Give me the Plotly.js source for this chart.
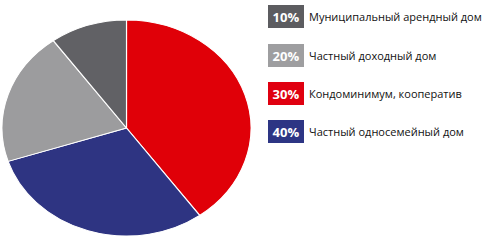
<!DOCTYPE html>
<html>
<head>
<meta charset="utf-8">
<script src="https://cdn.plot.ly/plotly-3.0.1.min.js"></script>
<style>
html,body{margin:0;padding:0;background:#fff;}
#chart{width:495px;height:246px;}
</style>
</head>
<body>
<div id="chart"></div>
<script>
// Pie slices as drawn (clockwise from 12 o'clock)
const sliceNames = ["Кондоминимум, кооператив", "Частный односемейный дом", "Частный доходный дом", "Муниципальный арендный дом"];
const sliceValues = [40, 30, 20, 10];
const sliceColors = ["#e00008", "#2e3482", "#9c9c9e", "#616165"];

// Custom legend (as printed)
const legendPct = ["10%", "20%", "30%", "40%"];
const legendLabels = ["Муниципальный арендный дом", "Частный доходный дом", "Кондоминимум, кооператив", "Частный односемейный дом"];
const legendColors = ["#5c5c60", "#9e9ea0", "#e00010", "#2d3584"];

const W = 495, H = 246;
const cx = 126.5, cy = 128, ry = 108, rx = 124.5;

const data = [{
  type: "pie",
  labels: sliceNames,
  values: sliceValues,
  marker: {colors: sliceColors, line: {color: "#ffffff", width: 1}},
  sort: false,
  direction: "clockwise",
  rotation: 0,
  textinfo: "none",
  hoverinfo: "label+percent",
  showlegend: false,
  domain: {x: [(cx - ry) / W, (cx + ry) / W], y: [(H - cy - ry) / H, (H - cy + ry) / H]}
}];

const annotations = [];
const rowY = [16, 55, 93, 131];
legendPct.forEach((p, i) => {
  annotations.push({
    xref: "paper", yref: "paper",
    x: 268 / W, y: 1 - rowY[i] / H,
    xanchor: "left", yanchor: "middle",
    text: "<b>" + p + "</b>",
    showarrow: false,
    bgcolor: legendColors[i],
    width: 36, height: 23, borderpad: 0, borderwidth: 0,
    font: {family: "Open Sans, sans-serif", size: 13, color: "#ffffff"},
    align: "center", valign: "middle"
  });
  annotations.push({
    xref: "paper", yref: "paper",
    x: 307 / W, y: 1 - rowY[i] / H,
    xanchor: "left", yanchor: "middle",
    text: legendLabels[i],
    showarrow: false,
    font: {family: "Open Sans, sans-serif", size: 11, color: "#111111"}
  });
});

const layout = {
  width: W, height: H,
  margin: {l: 0, r: 0, t: 0, b: 0},
  paper_bgcolor: "#ffffff",
  showlegend: false,
  annotations: annotations
};

Plotly.newPlot("chart", data, layout, {displayModeBar: false, staticPlot: true}).then(gd => {
  // stretch the pie horizontally into the ellipse seen in the reference
  const layer = gd.querySelector(".pielayer");
  if (layer) {
    const s = rx / ry;
    layer.setAttribute("transform", `translate(${cx},0) scale(${s},1) translate(${-cx},0)`);
  }
});
</script>
</body>
</html>
